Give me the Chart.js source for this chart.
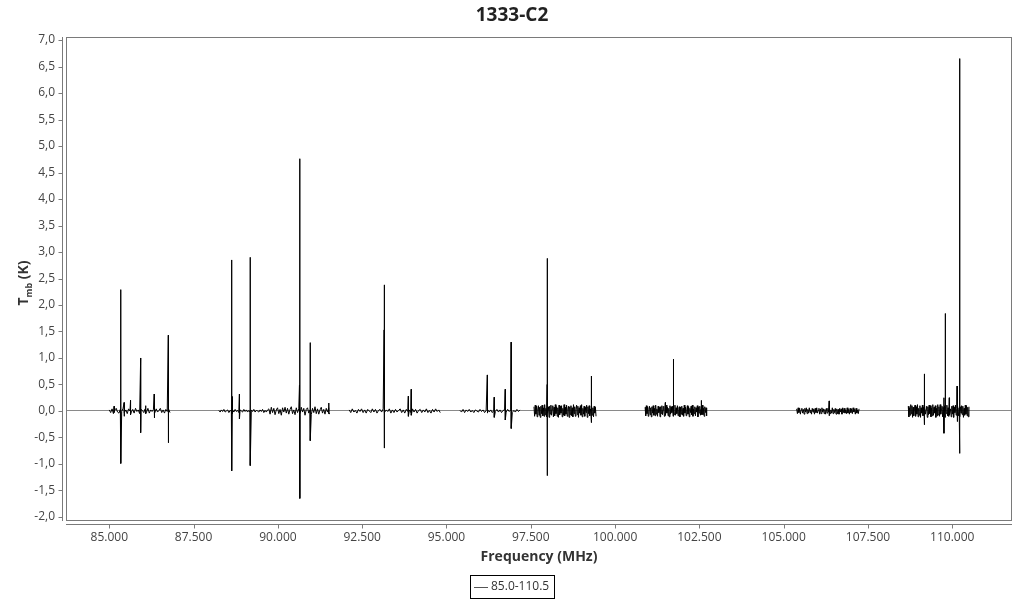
<!DOCTYPE html>
<html>
<head>
<meta charset="utf-8">
<title>1333-C2</title>
<script src="https://cdn.jsdelivr.net/npm/chart.js@4/dist/chart.umd.min.js"></script>
<style>
    html, body { margin: 0; padding: 0; background: #fff; }
    canvas { display: block; }
</style>
</head>
<body>
<canvas id="spectrum" width="1024" height="600"></canvas>
<script>
// Spectrum 1333-C2, frequencies in MHz, Tmb in K

const CHART_TITLE = '1333-C2';
const SERIES_LABEL = '85.0-110.5';
const X_TICKS = [85000, 87500, 90000, 92500, 95000, 97500, 100000, 102500, 105000, 107500, 110000];
const Y_TICKS = [-2, -1.5, -1, -0.5, 0, 0.5, 1, 1.5, 2, 2.5, 3, 3.5, 4, 4.5, 5, 5.5, 6, 6.5, 7];

// observed sub-bands [start, end] (MHz)
const bandEdges = [
    [85000, 86800],
    [88250, 91545],
    [92115, 94815],
    [95400, 97180],
    [97595, 99435],
    [100890, 102715],
    [105385, 107235],
    [108695, 110495]
];

// baseline channels for each band (K)
const band1 = [0.02,-0.03,0.04,-0.05,0.01,0.05,-0.02,-0.04,0.03,-0.01,0.05,-0.03,0.02,-0.05,0.04,0.00,-0.02,0.03,-0.04,0.05,-0.01,0.02,-0.05,0.03,0.01,-0.03,0.04,-0.02,0.05,-0.04,0.02,-0.01,0.03,-0.05,0.04,-0.02,0.01,0.05,-0.03,0.02,-0.04,0.03,-0.01,0.04,-0.03];
const band2 = [0.01,-0.02,0.02,-0.01,0.03,-0.02,0.00,0.02,-0.03,0.01,-0.01,0.02,-0.02,0.03,-0.01,0.01,-0.03,0.02,0.00,-0.02,0.03,-0.01,0.02,-0.02,0.01,-0.03,0.02,-0.01,0.03,-0.02,0.01,0.00,-0.02,0.02,-0.01,0.03,-0.03,0.01,-0.02,0.02,
    0.04,-0.06,0.07,-0.03,0.05,-0.07,0.02,0.06,-0.05,0.03,-0.08,0.06,-0.02,0.07,-0.04,0.05,-0.06,0.03,0.08,-0.05,0.02,-0.07,0.06,-0.03,0.04,-0.06,0.07,-0.02,0.05,-0.08,0.03,0.06,-0.04,0.02,-0.07,0.05,-0.03,0.08,-0.05,0.04,-0.06,0.02,0.07,-0.04,0.03,-0.06,0.05,-0.02,0.06,-0.05];
const band3 = [0.02,-0.03,0.04,-0.02,0.01,-0.04,0.03,-0.01,0.04,-0.03,0.02,-0.04,0.03,0.00,-0.03,0.04,-0.02,0.03,-0.04,0.01,0.03,-0.02,0.04,-0.03,0.02,-0.01,0.04,-0.04,0.02,-0.03,0.03,-0.02,0.01,0.04,-0.03,0.02,-0.04,0.03,-0.01,0.02,-0.03,0.04,-0.02,0.03,-0.04,0.01,0.03,-0.03,0.02,-0.02,0.04,-0.03,0.01,-0.04,0.03,-0.02,0.04,-0.01,0.02,-0.03];
const band4 = [0.01,-0.02,0.03,-0.03,0.02,-0.01,0.03,-0.02,0.01,-0.03,0.02,0.00,-0.02,0.03,-0.01,0.02,-0.03,0.01,0.03,-0.02,0.02,-0.03,0.01,-0.01,0.03,-0.02,0.02,-0.03,0.01,0.02,-0.02,0.03,-0.01,0.02,-0.03,0.01,-0.02,0.03,-0.01,0.02];
const band5 = [0.08,-0.10,0.11,-0.06,0.09,-0.11,0.04,0.10,-0.08,0.07,-0.12,0.09,-0.05,0.11,-0.09,0.06,-0.10,0.12,-0.07,0.05,-0.11,0.10,-0.04,0.08,-0.12,0.09,-0.06,0.11,-0.08,0.03,0.10,-0.11,0.07,-0.09,0.12,-0.05,0.08,-0.10,0.06,-0.12,0.11,-0.07,0.09,-0.04,0.10,-0.11,0.05,-0.08,0.12,-0.09,0.07,-0.06,0.11,-0.10,0.04,0.09,-0.12,0.08,-0.07,0.10,
    -0.09,0.06,-0.11,0.12,-0.05,0.08,-0.10,0.03,0.11,-0.07,0.09,-0.12,0.06,-0.04,0.10,-0.08,0.12,-0.11,0.05,-0.06,0.09,-0.10,0.07,-0.03,0.11,-0.12,0.08,-0.05,0.10,-0.09,0.04,-0.07,0.12,-0.08,0.06,-0.11,0.09,-0.04,0.07,-0.10];
const band6 = [0.07,-0.09,0.10,-0.05,0.08,-0.10,0.03,0.09,-0.07,0.06,-0.11,0.08,-0.04,0.10,-0.08,0.05,-0.09,0.11,-0.06,0.04,-0.10,0.09,-0.03,0.07,-0.11,0.08,-0.05,0.10,-0.07,0.02,0.09,-0.10,0.06,-0.08,0.11,-0.04,0.07,-0.09,0.05,-0.11,0.10,-0.06,0.08,-0.03,0.09,-0.10,0.04,-0.07,0.11,-0.08,0.06,-0.05,0.10,-0.09,0.03,0.08,-0.11,0.07,-0.06,0.09,
    -0.08,0.05,-0.10,0.11,-0.04,0.07,-0.09,0.02,0.10,-0.06,0.08,-0.11,0.05,-0.03,0.09,-0.07,0.11,-0.10,0.04,-0.05,0.08,-0.09,0.06,-0.02,0.10,-0.11,0.07,-0.04,0.09,-0.08,0.03,-0.06,0.11,-0.07,0.05,-0.10,0.08,-0.03,0.06,-0.09];
const band7 = [0.04,-0.05,0.06,-0.03,0.05,-0.06,0.02,0.05,-0.04,0.03,-0.06,0.05,-0.02,0.06,-0.05,0.03,-0.04,0.06,-0.03,0.02,-0.06,0.05,-0.02,0.04,-0.06,0.05,-0.03,0.06,-0.04,0.01,0.05,-0.06,0.04,-0.05,0.06,-0.02,0.04,-0.05,0.03,-0.06,0.05,-0.04,0.05,-0.02,0.06,-0.05,0.02,-0.04,0.06,-0.05,0.03,-0.03,0.05,-0.06,0.04,
    -0.05,0.03,-0.06,0.05,-0.02,0.04,-0.06,0.06,-0.03,0.05,-0.04,0.02,-0.05,0.06,-0.04,0.03,-0.06,0.05,-0.03,0.04,-0.05,0.06,-0.02,0.03,-0.06,0.05,-0.04,0.02,-0.05,0.04];
const band8 = [0.09,-0.11,0.06,-0.08,0.12,-0.05,0.10,-0.12,0.07,-0.09,0.04,0.11,-0.10,0.08,-0.06,0.12,-0.11,0.05,-0.08,0.10,-0.12,0.06,-0.04,0.11,-0.09,0.07,-0.10,0.12,-0.06,0.03,0.09,-0.12,0.08,-0.07,0.11,-0.05,0.10,-0.11,0.06,-0.09,0.12,-0.08,0.07,-0.04,0.10,-0.12,0.05,-0.09,0.11,-0.07,0.08,-0.10,0.12,-0.06,0.04,0.09,-0.11,0.07,-0.08,0.10,
    -0.12,0.08,-0.05,0.11,-0.09,0.06,-0.10,0.12,-0.07,0.04,-0.11,0.09,-0.06,0.10,-0.12,0.07,-0.03,0.11,-0.08,0.05,-0.10,0.12,-0.09,0.06,-0.11,0.08,-0.04,0.10,-0.07,0.09,-0.12,0.05,-0.08,0.11,-0.06,0.10,-0.09,0.07,-0.11,0.08];

// lines: [frequency MHz, peak K, trough K]
const lines1 = [[85140,0.09,-0.03],[85340,2.29,-0.99],[85440,0.16,-0.10],[85630,0.20,-0.07],[85930,1.00,-0.41],[86080,0.10,-0.05],[86330,0.32,-0.13],[86750,1.43,-0.60]];
const lines2 = [[88630,2.85,-1.13],[88650,0.27,-0.05],[88860,0.32,-0.15],[89180,2.90,-1.03],[90640,0.49,-0.20],[90655,4.76,-1.65],[90960,1.29,-0.56],[91510,0.15,-0.05]];
const lines3 = [[93150,1.53,-0.30],[93155,2.38,-0.70],[93160,0.64,-0.20],[93870,0.28,-0.10],[93956,0.41,-0.08]];
const lines4 = [[96210,0.68,-0.04],[96417,0.26,-0.12],[96744,0.41,-0.17],[96920,1.30,-0.33]];
const lines5 = [[97985,0.50,-0.90],[97990,2.88,-1.22],[99295,0.66,-0.22]];
const lines6 = [[101490,0.16,-0.05],[101726,0.98,-0.05],[101735,0.77,0.08],[102556,0.20,-0.07]];
const lines7 = [[106352,0.19,-0.09]];
const lines8 = [[109169,0.70,-0.26],[109570,0.12,-0.08],[109754,0.25,-0.42],[109790,1.84,-0.10],[109910,0.25,-0.05],[110140,0.47,-0.20],[110220,6.65,-0.80]];

const baselines = [band1, band2, band3, band4, band5, band6, band7, band8];
const lineLists = [lines1, lines2, lines3, lines4, lines5, lines6, lines7, lines8];

// axis ranges: MHz and K (a few pixels of margin inside the frame)
const X_MIN = 83716;
const X_MAX = 111771;
const Y_MIN = -2.057;
const Y_MAX = 7.057;

/**
 * Join the channel values and line peaks of every band into one point list,
 * with a null between bands so the trace breaks
 */
function buildSpectrum() {
    const points = [];
    bandEdges.forEach(([start, end], b) => {
        const values = baselines[b];
        const step = (end - start) / (values.length - 1);
        const band = values.map((v, i) => ({ x: start + i * step, y: v }));
        lineLists[b].forEach(([f, peak, trough]) => {
            band.push({ x: f, y: peak });
            band.push({ x: f, y: trough });
        });
        band.sort((a, c) => a.x - c.x);
        points.push(...band);
        points.push({ x: end + 1, y: null });
    });
    return points;
}

function formatMHz(v) {
    const whole = Math.floor(v / 1000);
    const rest = String(Math.round(v % 1000)).padStart(3, '0');
    return whole + '.' + rest;
}

// frame, offset axis lines, titles and boxed legend
const decorations = {
    id: 'decorations',
    afterDraw(chart) {
        const { ctx, chartArea: a, scales } = chart;
        ctx.save();
        ctx.strokeStyle = '#7a7a7a';
        ctx.lineWidth = 1;

        // plot frame
        ctx.strokeRect(a.left + 0.5, a.top + 0.5, a.right - a.left - 1, a.bottom - a.top);

        // y axis line + ticks
        const yLine = a.left - 4 + 0.5;
        ctx.beginPath();
        ctx.moveTo(yLine, a.top);
        ctx.lineTo(yLine, a.bottom + 1);
        scales.y.ticks.forEach(t => {
            const py = Math.round(scales.y.getPixelForValue(t.value)) + 0.5;
            ctx.moveTo(yLine - 4, py);
            ctx.lineTo(yLine, py);
        });
        // x axis line + ticks
        const xLine = a.bottom + 4 + 0.5;
        ctx.moveTo(a.left, xLine);
        ctx.lineTo(a.right, xLine);
        scales.x.ticks.forEach(t => {
            const px = Math.round(scales.x.getPixelForValue(t.value)) + 0.5;
            ctx.moveTo(px, xLine);
            ctx.lineTo(px, xLine + 4);
        });
        ctx.stroke();

        // chart title
        ctx.fillStyle = '#222';
        ctx.textAlign = 'center';
        ctx.textBaseline = 'middle';
        ctx.font = "bold 19px 'Open Sans'";
        ctx.fillText(CHART_TITLE, 512, 16);

        // x axis title
        ctx.fillStyle = '#333';
        ctx.font = "bold 14px 'Open Sans'";
        ctx.fillText('Frequency (MHz)', (a.left + a.right) / 2, 557);

        // y axis title with subscript
        ctx.save();
        ctx.translate(23, 283);
        ctx.rotate(-Math.PI / 2);
        ctx.textAlign = 'left';
        ctx.textBaseline = 'alphabetic';
        const big = "bold 14px 'Open Sans'";
        const small = "bold 9px 'Open Sans'";
        ctx.font = big;
        const wT = ctx.measureText('T').width;
        const wK = ctx.measureText(' (K)').width;
        ctx.font = small;
        const wSub = ctx.measureText('mb').width;
        let cx = -(wT + wSub + wK) / 2;
        ctx.font = big;
        ctx.fillText('T', cx, 5);
        cx += wT;
        ctx.font = small;
        ctx.fillText('mb', cx, 9);
        cx += wSub;
        ctx.font = big;
        ctx.fillText(' (K)', cx, 5);
        ctx.restore();

        // legend box
        ctx.strokeStyle = '#000';
        ctx.strokeRect(470.5, 575.5, 84, 23);
        ctx.strokeStyle = '#555';
        ctx.beginPath();
        ctx.moveTo(474, 587.5);
        ctx.lineTo(488, 587.5);
        ctx.stroke();
        ctx.fillStyle = '#333';
        ctx.font = "12px 'Open Sans'";
        ctx.textAlign = 'left';
        ctx.textBaseline = 'middle';
        ctx.fillText(chart.data.datasets[0].label, 491, 587);

        ctx.restore();
    }
};

const ctx = document.getElementById('spectrum');

new Chart(ctx, {
    type: 'line',
    data: {
        datasets: [{
            label: SERIES_LABEL,
            data: buildSpectrum(),
            borderColor: '#000',
            borderWidth: 1,
            pointRadius: 0,
            tension: 0,
            spanGaps: false,
            fill: false
        }]
    },
    options: {
        responsive: false,
        animation: false,
        devicePixelRatio: 1,
        layout: {
            padding: { top: 37, right: 12, bottom: 0, left: 0 }
        },
        scales: {
            x: {
                type: 'linear',
                min: X_MIN,
                max: X_MAX,
                afterFit: scale => { scale.height = 80; },
                afterBuildTicks: scale => {
                    scale.ticks = X_TICKS.map(v => ({ value: v }));
                },
                border: { display: false },
                grid: { display: false },
                ticks: {
                    autoSkip: false,
                    maxRotation: 0,
                    padding: 2,
                    color: '#444',
                    font: { family: "'Open Sans'", size: 12 },
                    callback: v => formatMHz(v)
                }
            },
            y: {
                type: 'linear',
                min: Y_MIN,
                max: Y_MAX,
                afterFit: scale => { scale.width = 66; },
                afterBuildTicks: scale => {
                    scale.ticks = Y_TICKS.map(v => ({ value: v }));
                },
                border: { display: false },
                grid: {
                    drawTicks: false,
                    color: c => (c.tick && c.tick.value === 0) ? '#8a8a8a' : 'rgba(0,0,0,0)'
                },
                ticks: {
                    padding: 11,
                    color: '#444',
                    font: { family: "'Open Sans'", size: 12 },
                    callback: v => v.toFixed(1).replace('.', ',')
                }
            }
        },
        plugins: {
            legend: { display: false },
            title: { display: false },
            tooltip: { enabled: false }
        }
    },
    plugins: [decorations]
});
</script>
</body>
</html>
